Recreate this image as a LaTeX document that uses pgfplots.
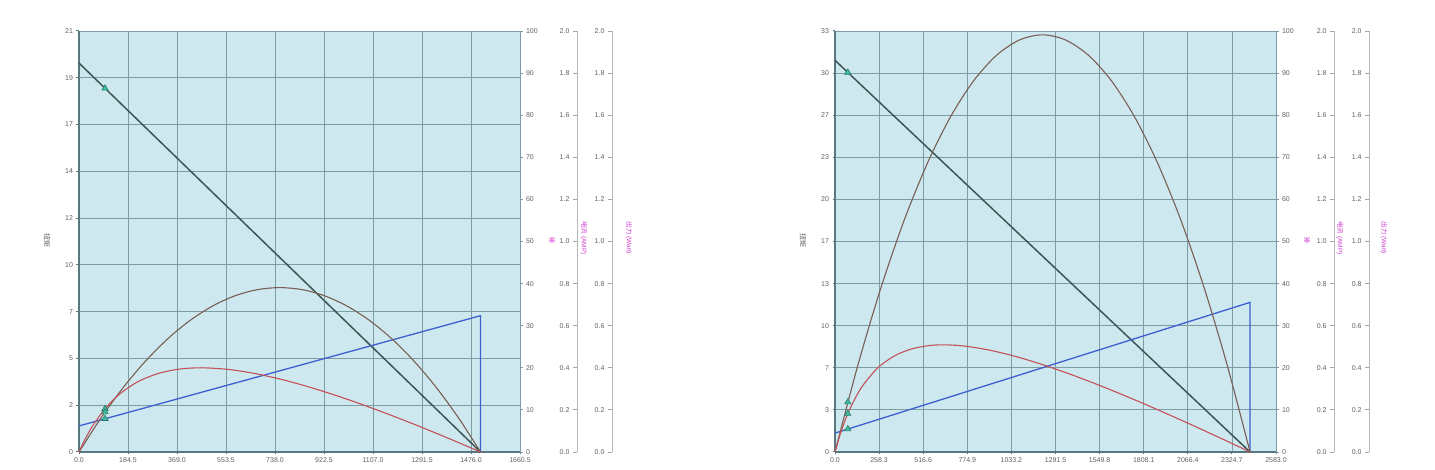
\documentclass[border=0pt]{standalone}
\usepackage{fontspec}
\setmainfont{Liberation Sans}
\newfontfamily\cjk{Noto Sans CJK SC}
\usepackage{pgfplots}
\pgfplotsset{compat=1.18}

\definecolor{bgc}{HTML}{CDE9EF}
\definecolor{gridc}{HTML}{7D9DA5}
\definecolor{axc}{HTML}{587880}
\definecolor{labc}{HTML}{606060}
\definecolor{speedc}{HTML}{3F5656}
\definecolor{powc}{HTML}{7A5E54}
\definecolor{effc}{HTML}{C4505A}
\definecolor{curc}{HTML}{3D5FD0}
\definecolor{trif}{HTML}{3CC0A0}
\definecolor{tric}{HTML}{2A7A6A}
\definecolor{magc}{HTML}{D040D0}

\pgfplotsset{
    panel/.style = {
        scale only axis,
        width = 441pt,
        height = 421pt,
        anchor = south west,
        tick label style = {font=\fontsize{7}{8}\selectfont, text=labc},
        tick align = outside,
        major tick length = 2.5pt,
    },
    mainax/.style = {
        panel,
        ymin = 0,
        axis background/.style = {fill=bgc},
        axis x line* = bottom,
        axis y line* = left,
        x axis line style = {-, line width=2.4pt, axc},
        y axis line style = {-, line width=2.4pt, axc},
        tick style = {axc, line width=1pt},
        grid = major,
        grid style = {gridc, line width=0.8pt},
        clip = false,
    },
    pctax/.style = {
        panel,
        xmin = 0, xmax = 1, ymin = 0, ymax = 100,
        hide x axis,
        axis y line* = right,
        y axis line style = {-, gridc, line width=0.8pt},
        tick style = {gridc, line width=0.8pt},
        ytick = {0,10,20,30,40,50,60,70,80,90,100},
        yticklabels = {0,10,20,30,40,50,60,70,80,90,100},
    },
    extraax/.style = {
        panel,
        width = 1pt,
        xmin = 0, xmax = 1, ymin = 0, ymax = 2,
        hide x axis,
        axis y line* = left,
        y axis line style = {-, gray!55, line width=0.8pt},
        tick style = {gray!70, line width=0.8pt},
        major tick length = 4pt,
        ytick = {0,0.2,0.4,0.6,0.8,1,1.2,1.4,1.6,1.8,2},
        yticklabels = {0.0,0.2,0.4,0.6,0.8,1.0,1.2,1.4,1.6,1.8,2.0},
    },
    speed/.style = {speedc, line width=1.5pt, no marks},
    power/.style = {powc, line width=1.1pt, no marks, smooth},
    eff/.style = {effc, line width=1.1pt, no marks, smooth},
    current/.style = {curc, line width=1.3pt, no marks},
    tri/.style = {only marks, mark=triangle*, mark size=3.6pt,
        mark options={fill=trif, draw=tric, line width=0.6pt}},
}

\begin{document}
\begin{tikzpicture}
\path[use as bounding box] (0,0) rectangle (1435pt,470pt);

% ---------------- left panel ----------------
\begin{axis}[
    mainax,
    at = {(79pt,18pt)},
    xmin = 0, xmax = 1660.5, ymax = 21,
    xtick = {0,184.5,369,553.5,738,922.5,1107,1291.5,1476,1660.5},
    xticklabels = {0.0,184.5,369.0,553.5,738.0,922.5,1107.0,1291.5,1476.0,1660.5},
    ytick = {0,2.3333,4.6667,7,9.3333,11.6667,14,16.3333,18.6667,21},
    yticklabels = {0,2,5,7,10,12,14,17,19,21},
]
    \addplot [speed] coordinates {(0,19.4) (1512,0)};
    \addplot [current] coordinates {(0,1.3) (1512,6.8) (1512,0)};
    \addplot [power] coordinates {
        (0,0) (84,1.721) (168,3.240) (252,4.556) (336,5.669) (420,6.580)
        (504,7.289) (588,7.795) (672,8.099) (756,8.200) (840,8.099)
        (924,7.795) (1008,7.289) (1092,6.580) (1176,5.669) (1260,4.556)
        (1344,3.240) (1428,1.721) (1512,0)
    };
    \addplot [eff] coordinates {
        (0,0) (20,0.561) (50,1.273) (98,2.159) (150,2.857) (220,3.493)
        (300,3.924) (380,4.138) (460,4.200) (560,4.122) (660,3.920)
        (760,3.628) (860,3.267) (960,2.853) (1060,2.397) (1160,1.908)
        (1260,1.392) (1360,0.854) (1440,0.409) (1512,0)
    };
    \addplot [tri] coordinates {(98,18.14) (98,2.16) (98,1.99) (98,1.66)};
\end{axis}
\begin{axis}[pctax, at = {(79pt,18pt)}]
\end{axis}
\begin{axis}[extraax, at = {(577pt,18pt)}]
\end{axis}
\begin{axis}[extraax, at = {(612pt,18pt)}]
\end{axis}
\node [rotate=-90, font=\fontsize{7}{8}\selectfont\cjk, text=labc] at (47pt,229pt) {扭矩};
\node [font=\fontsize{7}{8}\selectfont\cjk, text=magc] at (552pt,229pt) {率};
\node [rotate=-90, font=\fontsize{6.5}{7}\selectfont, text=magc] at (584pt,232pt) {{\cjk 电流} (AMP)};
\node [rotate=-90, font=\fontsize{6.5}{7}\selectfont, text=magc] at (629pt,232pt) {{\cjk 出力} (Watt)};

% ---------------- right panel ----------------
\begin{axis}[
    mainax,
    at = {(835pt,18pt)},
    xmin = 0, xmax = 2583, ymax = 33,
    xtick = {0,258.3,516.6,774.9,1033.2,1291.5,1549.8,1808.1,2066.4,2324.7,2583},
    xticklabels = {0.0,258.3,516.6,774.9,1033.2,1291.5,1549.8,1808.1,2066.4,2324.7,2583.0},
    ytick = {0,3.3,6.6,9.9,13.2,16.5,19.8,23.1,26.4,29.7,33},
    yticklabels = {0,3,7,10,13,17,20,23,27,30,33},
]
    \addplot [speed] coordinates {(0,30.7) (2431,0)};
    \addplot [current] coordinates {(0,1.48) (2431,11.73) (2431,0)};
    \addplot [power] coordinates {
        (0,0) (135.1,6.863) (270.1,12.919) (405.2,18.167) (540.2,22.607)
        (675.3,26.241) (810.3,29.067) (945.4,31.085) (1080.4,32.296)
        (1215.5,32.700) (1350.6,32.296) (1485.6,31.085) (1620.7,29.067)
        (1755.7,26.241) (1890.8,22.607) (2025.8,18.167) (2160.9,12.919)
        (2295.9,6.863) (2431,0)
    };
    \addplot [eff] coordinates {
        (0,0) (25,1.162) (75,3.012) (150,4.959) (250,6.588) (350,7.545)
        (450,8.082) (550,8.338) (637,8.400) (750,8.316) (900,7.998)
        (1050,7.516) (1200,6.916) (1350,6.230) (1500,5.479) (1650,4.677)
        (1800,3.834) (1950,2.960) (2100,2.059) (2250,1.137) (2350,0.512)
        (2431,0)
    };
    \addplot [tri] coordinates {(75,29.75) (75,3.91) (75,3.01) (75,1.80)};
\end{axis}
\begin{axis}[pctax, at = {(835pt,18pt)}]
\end{axis}
\begin{axis}[extraax, at = {(1334pt,18pt)}]
\end{axis}
\begin{axis}[extraax, at = {(1369pt,18pt)}]
\end{axis}
\node [rotate=-90, font=\fontsize{7}{8}\selectfont\cjk, text=labc] at (803pt,229pt) {扭矩};
\node [font=\fontsize{7}{8}\selectfont\cjk, text=magc] at (1307pt,229pt) {率};
\node [rotate=-90, font=\fontsize{6.5}{7}\selectfont, text=magc] at (1340pt,232pt) {{\cjk 电流} (AMP)};
\node [rotate=-90, font=\fontsize{6.5}{7}\selectfont, text=magc] at (1384pt,232pt) {{\cjk 出力} (Watt)};
\end{tikzpicture}
\end{document}
